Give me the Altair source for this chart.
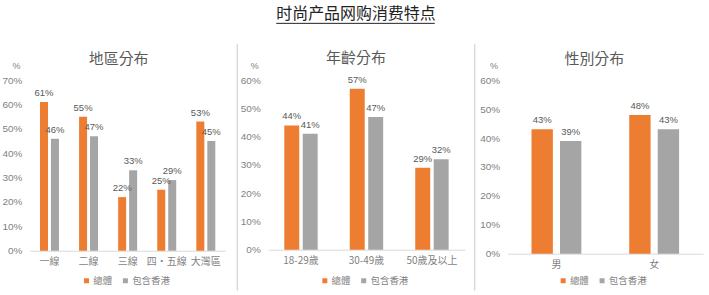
import altair as alt
import pandas as pd

series = ["總體", "包含香港"]
region_cats = ["一線", "二線", "三線", "四・五線", "大灣區"]
region_total = [61, 55, 22, 25, 53]
region_hk = [46, 47, 33, 29, 45]
age_cats = ["18-29歲", "30-49歲", "50歲及以上"]
age_total = [44, 57, 29]
age_hk = [41, 47, 32]
gender_cats = ["男", "女"]
gender_total = [43, 48]
gender_hk = [39, 43]

ORANGE = "#ED7D31"
GREY = "#A5A5A5"
AXC = "#7f7f7f"
LBL = "#595959"
CJK = "Noto Sans CJK TC"


def make_df(cats, tot, hk):
    rows = []
    for c, a, b in zip(cats, tot, hk):
        rows.append({"cat": c, "series": series[0], "val": a})
        rows.append({"cat": c, "series": series[1], "val": b})
    return pd.DataFrame(rows)


def text_mark(txt, xv, yv, font, size, col):
    return alt.Chart(pd.DataFrame({"t": [txt]})).mark_text(
        font=font, fontSize=size, color=col, baseline="middle", align="center"
    ).encode(x=alt.value(xv), y=alt.value(yv), text="t:N")


def panel(cats, tot, hk, title, ymax, w, h, pin, qin, lx, ly, tx, ty, extra=None):
    df = make_df(cats, tot, hk)
    x = alt.X("cat:N", sort=cats,
              scale=alt.Scale(paddingInner=pin, paddingOuter=pin / 2),
              axis=alt.Axis(title=None, labelAngle=0, ticks=False, domainColor="#d9d9d9",
                            labelColor=AXC, labelFontSize=10, labelFont=CJK, labelPadding=6))
    xo = alt.XOffset("series:N", sort=series, scale=alt.Scale(paddingInner=qin, paddingOuter=0))
    y = alt.Y("val:Q", scale=alt.Scale(domain=[0, ymax], nice=False),
              axis=alt.Axis(values=list(range(0, ymax + 1, 10)), labelExpr="datum.value + '%'",
                            labelOverlap=False, grid=False, domain=False, ticks=False, labelPadding=8,
                            labelColor=AXC, labelFontSize=10, labelFont="Liberation Sans",
                            title="%", titleAngle=0, titleX=-14, titleY=-15, titleAlign="center",
                            titleBaseline="middle", titleFontWeight="normal", titleFontSize=9,
                            titleColor=AXC, titleFont="Liberation Sans"))
    color = alt.Color("series:N", sort=series,
                      scale=alt.Scale(domain=series, range=[ORANGE, GREY]),
                      legend=alt.Legend(orient="none", legendX=lx, legendY=ly, direction="horizontal",
                                        title=None, symbolType="square", symbolSize=25,
                                        symbolStrokeWidth=0, labelFontSize=9.5, labelColor=AXC,
                                        labelFont=CJK, columnPadding=8, labelOffset=2, padding=0))
    bars = alt.Chart(df).mark_bar().encode(x=x, xOffset=xo, y=y, color=color)
    labels = alt.Chart(df).mark_text(baseline="bottom", dy=-4, fontSize=9.5, color=LBL,
                                     font="Liberation Sans").encode(
        x=x, xOffset=xo, y=y, text=alt.Text("label:N")).transform_calculate(label="datum.val + '%'")
    ttl = text_mark(title, tx, ty, CJK, 15, LBL)
    layers = [bars, labels, ttl] + (extra or [])
    return alt.layer(*layers).properties(width=w, height=h)


def vrule(xv, y1, y2, col="#d9d9d9", sw=1.5):
    return alt.Chart(pd.DataFrame({"a": [0]})).mark_rule(color=col, strokeWidth=sw).encode(
        x=alt.value(xv), y=alt.value(y1), y2=alt.value(y2))


def hrule(x1, x2, yv, col, sw=1):
    return alt.Chart(pd.DataFrame({"a": [0]})).mark_rule(color=col, strokeWidth=sw).encode(
        x=alt.value(x1), x2=alt.value(x2), y=alt.value(yv))


main_title = text_mark("时尚产品网购消费特点", 356 - 268, 13 - 79, "Noto Sans CJK SC", 16, "#222222")

p1 = panel(region_cats, region_total, region_hk, "地區分布", 70, 196, 171, 0.515, 0.27, 52, 196, 89, -21,
           extra=[vrule(-29, -79, 216, "#ffffff", 0.5), hrule(-29, 100, -79, "#ffffff", 0.5)])
p2 = panel(age_cats, age_total, age_hk, "年齡分布", 60, 197, 170, 0.49, 0.19, 52, 196, 88, -22,
           extra=[vrule(-31, -36, 211), main_title,
                  hrule(276 - 268, 435 - 268, 22 - 79, "#222222", 1)])
p3 = panel(gender_cats, gender_total, gender_hk, "性別分布", 60, 196, 174, 0.49, 0.25, 51, 196, 87, -21,
           extra=[vrule(-33, -36, 211), vrule(201, -79, 216, "#ffffff", 0.5)])

chart = alt.hconcat(p1, p2, p3, spacing=43, bounds="flush").resolve_scale(
    color="independent", x="independent", y="independent", xOffset="independent"
).resolve_legend(color="independent").properties(
    padding=0, background="white"
).configure_view(stroke=None)

chart.save("out.html", embed_options={"renderer": "svg", "actions": False})
